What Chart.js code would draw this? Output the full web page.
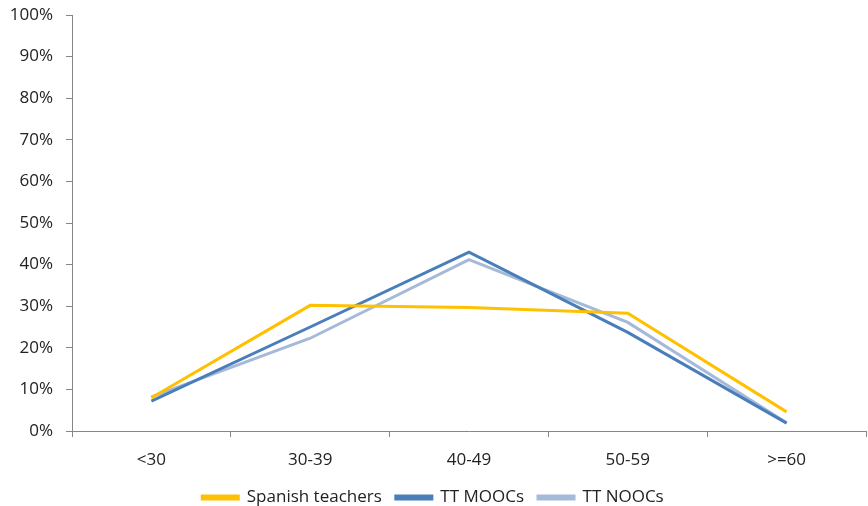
<!DOCTYPE html>
<html>
<head>
<meta charset="utf-8">
<script src="https://cdn.jsdelivr.net/npm/chart.js@4"></script>
<style>
  html, body { margin: 0; padding: 0; background: #fff; }
  #wrap { width: 868px; height: 506px; }
</style>
</head>
<body>
<div id="wrap"><canvas id="line-chart"></canvas></div>
<script>
const ageGroups = ["<30", "30-39", "40-49", "50-59", ">=60"];
const spanishTeachers = [8.0, 30.2, 29.7, 28.3, 4.6];
const ttMoocs = [7.2, 25.0, 43.0, 23.7, 1.9];
const ttNoocs = [8.2, 22.3, 41.2, 26.1, 2.0];

const axisGray = "#868686";
const textColor = "#222222";
const fontFamily = "'Open Sans'";

new Chart(document.getElementById("line-chart"), {
  type: 'line',
  data: {
    labels: ageGroups,
    datasets: [{
        data: spanishTeachers,
        label: "Spanish teachers",
        borderColor: "#FFC000",
        backgroundColor: "#FFC000",
        borderWidth: 3,
        pointRadius: 0,
        fill: false
      },
      {
        data: ttMoocs,
        label: "TT MOOCs",
        borderColor: "#4A7EBB",
        backgroundColor: "#4A7EBB",
        borderWidth: 3,
        pointRadius: 0,
        fill: false
      },
      {
        data: ttNoocs,
        label: "TT NOOCs",
        borderColor: "#A5B9D9",
        backgroundColor: "#A5B9D9",
        borderWidth: 3,
        pointRadius: 0,
        fill: false
      }
    ]
  },
  options: {
    responsive: true,
    maintainAspectRatio: false,
    animation: false,
    layout: { padding: { top: 0, right: 2, left: 0, bottom: -10 } },
    plugins: {
      title: { display: false },
      tooltip: { enabled: false },
      legend: {
        position: 'bottom',
        labels: {
          font: { family: fontFamily, size: 17 },
          color: textColor,
          boxWidth: 36,
          boxHeight: 3,
          padding: 14
        }
      }
    },
    scales: {
      x: {
        offset: true,
        grid: { offset: true, drawOnChartArea: false, tickLength: 6, color: axisGray },
        border: { color: axisGray },
        ticks: { font: { family: fontFamily, size: 17 }, color: textColor, padding: 13 },
        afterFit: function (scale) { scale.height = 44; }
      },
      y: {
        min: 0,
        max: 100,
        grid: { drawOnChartArea: false, tickLength: 6, color: axisGray },
        border: { color: axisGray },
        ticks: {
          stepSize: 10,
          font: { family: fontFamily, size: 17 },
          color: textColor,
          padding: 13,
          callback: function (v) { return v + "%"; }
        },
        afterFit: function (scale) {
          scale.width = 72;
          scale.paddingTop = 15;
        }
      }
    }
  }
});
</script>
</body>
</html>
